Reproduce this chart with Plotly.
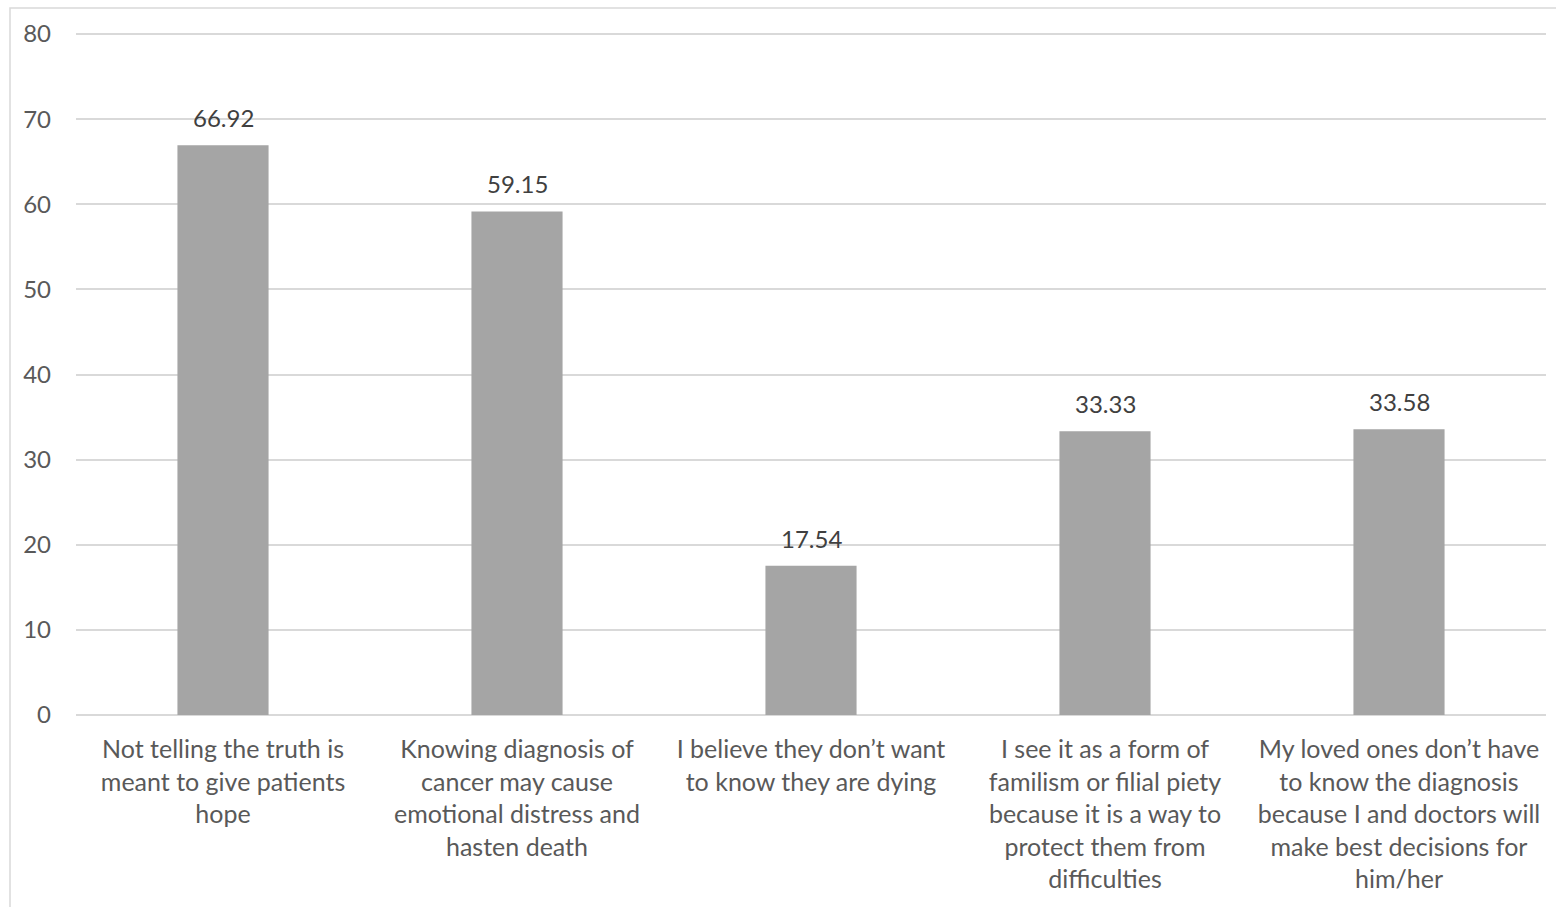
import plotly.graph_objects as go

categories = [
    "Not telling the truth is<br>meant to give patients<br>hope",
    "Knowing diagnosis of<br>cancer may cause<br>emotional distress and<br>hasten death",
    "I believe they don’t want<br>to know they are dying",
    "I see it as a form of<br>familism or filial piety<br>because it is a way to<br>protect them from<br>difficulties",
    "My loved ones don’t have<br>to know the diagnosis<br>because I and doctors will<br>make best decisions for<br>him/her",
]
values = [66.92, 59.15, 17.54, 33.33, 33.58]
y_ticks = [0, 10, 20, 30, 40, 50, 60, 70, 80]

FONT = "Lato"
TXT = "#595959"

fig = go.Figure()
fig.add_trace(go.Bar(
    x=list(range(len(categories))),
    y=values,
    marker=dict(color="#A5A5A5", line=dict(width=0)),
    width=0.31,
    hoverinfo="skip",
))

for i, v in enumerate(values):
    fig.add_annotation(x=i, y=v, text=f"{v:.2f}", showarrow=False,
                       yanchor="bottom", yshift=11,
                       font=dict(family=FONT, size=24, color="#404040"))

W, H = 1556, 907
L, R, T, B = 76, 10, 30, 192
pw = W - L - R
ph = H - T - B
ymax = 80 * ph / (ph - 4)

fig.add_shape(type="rect", xref="paper", yref="paper",
              x0=(10 - L) / pw, x1=(W + 5 - L) / pw,
              y0=-(B + 5) / ph, y1=1 + (T - 8) / ph,
              line=dict(color="#D9D9D9", width=1.5), fillcolor="rgba(0,0,0,0)",
              layer="below")

fig.update_layout(
    width=W, height=H,
    margin=dict(l=L, r=R, t=T, b=B),
    paper_bgcolor="white", plot_bgcolor="white",
    showlegend=False,
    font=dict(family=FONT, size=24, color=TXT),
    xaxis=dict(
        tickmode="array",
        tickvals=list(range(len(categories))),
        ticktext=categories,
        range=[-0.5, len(categories) - 0.5],
        showgrid=False, zeroline=False, showline=False,
        ticks="", ticklabelstandoff=17,
        tickfont=dict(family=FONT, size=25, color=TXT),
        tickangle=0,
    ),
    yaxis=dict(
        range=[0, ymax],
        tickmode="array", tickvals=y_ticks,
        showgrid=True, gridcolor="#D9D9D9", gridwidth=1.5,
        zeroline=True, zerolinecolor="#D9D9D9", zerolinewidth=1.5,
        showline=False, ticks="", ticklabelstandoff=24,
        tickfont=dict(family=FONT, size=24, color=TXT),
    ),
)

fig.write_html("out.html")
